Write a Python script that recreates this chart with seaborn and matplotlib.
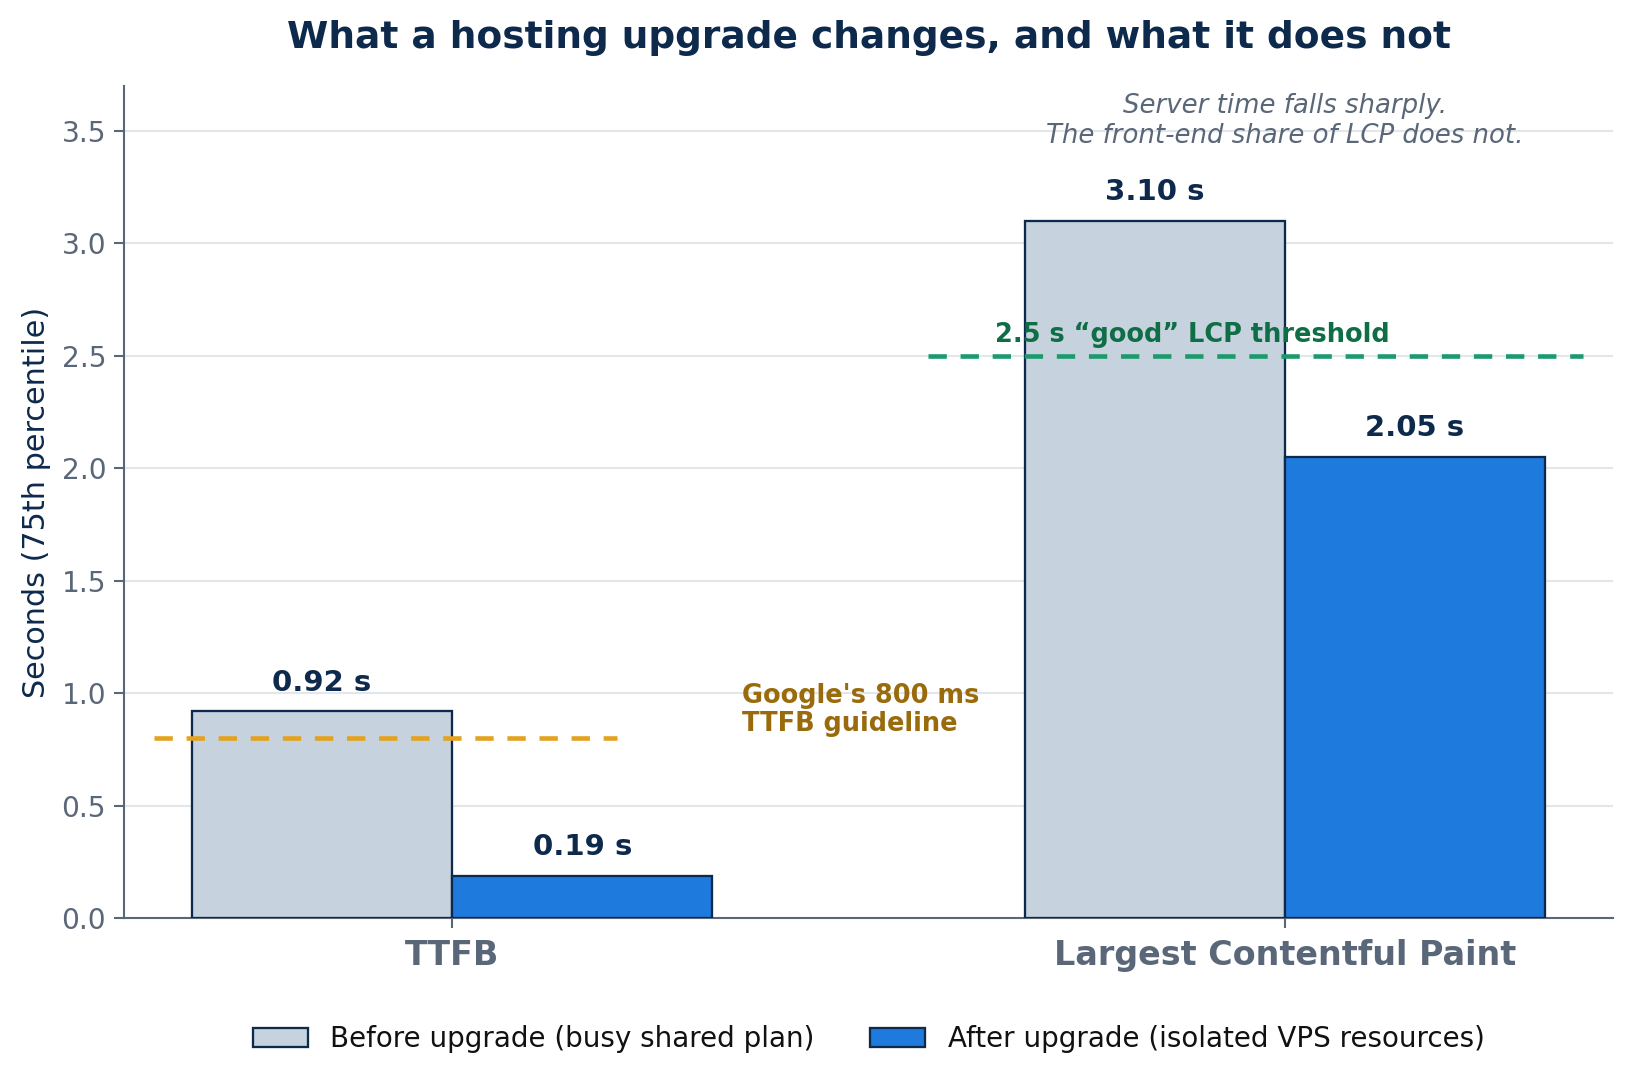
import matplotlib
matplotlib.use("Agg")
import matplotlib.pyplot as plt
import seaborn as sns
import pandas as pd

metrics = ["TTFB", "Largest Contentful Paint"]
series = ["Before upgrade (busy shared plan)", "After upgrade (isolated VPS resources)"]
before_vals = [0.92, 3.10]
after_vals = [0.19, 2.05]
ttfb_guideline = 0.8
lcp_threshold = 2.5

NAVY = "#0d2a4c"
GRAY = "#5a6778"
C_BEFORE = "#c6d2de"
C_AFTER = "#1f7ade"

rows = []
for m, b, a in zip(metrics, before_vals, after_vals):
    rows.append({"metric": m, "series": series[0], "value": b})
    rows.append({"metric": m, "series": series[1], "value": a})
df = pd.DataFrame(rows)

sns.set_theme(style="white")
plt.rcParams["font.family"] = ["DejaVu Sans"]

fig = plt.figure(figsize=(1631 / 150, 1085 / 150), dpi=150)
ax = fig.add_axes([0.076, 0.1535, 0.989 - 0.076, 0.921 - 0.1535])

sns.barplot(data=df, x="metric", y="value", hue="series", order=metrics,
            hue_order=series, palette=[C_BEFORE, C_AFTER], width=0.625,
            saturation=1, edgecolor=NAVY, linewidth=1.1, ax=ax, zorder=3,
            errorbar=None)

ax.set_ylim(0, 3.7)
ax.set_xlim(-0.394, 1.394)
yt = [0, 0.5, 1.0, 1.5, 2.0, 2.5, 3.0, 3.5]
ax.set_yticks(yt)
ax.set_yticklabels([f"{v:.1f}" for v in yt])
ax.yaxis.grid(True, color="#e3e7ec", linewidth=1.0, zorder=0)
ax.set_axisbelow(True)
for s in ["top", "right"]:
    ax.spines[s].set_visible(False)
for s in ["left", "bottom"]:
    ax.spines[s].set_color(GRAY)
    ax.spines[s].set_linewidth(1.0)
ax.tick_params(axis="y", colors=GRAY, labelsize=13.5, length=5, width=1, left=True)
ax.tick_params(axis="x", colors=GRAY, length=5, width=1, bottom=True, pad=5)
for lab in ax.get_xticklabels():
    lab.set_fontsize(16)
    lab.set_fontweight("bold")
    lab.set_color(GRAY)
ax.set_xlabel("")
ax.set_ylabel("Seconds (75th percentile)", fontsize=14.5, color=NAVY, labelpad=5)

for cont in ax.containers:
    ax.bar_label(cont, labels=[f"{v:.2f} s" for v in cont.datavalues], padding=7,
                 fontsize=14, fontweight="bold", color=NAVY)

ax.axhline(ttfb_guideline, xmin=0.02, xmax=0.331, color="#e3a21f", linestyle=(0, (4, 3)),
           linewidth=2.2, zorder=4)
ax.axhline(lcp_threshold, xmin=0.54, xmax=0.98, color="#1b9a6c", linestyle=(0, (4, 3)),
           linewidth=2.2, zorder=4)
ax.text(0.348, 0.925, "Google's 800 ms\nTTFB guideline", ha="left", va="center",
        fontsize=12.3, fontweight="bold", color="#9a6b0c", linespacing=1.12, zorder=5)
ax.text(0.889, 2.535, "2.5 s \u201cgood\u201d LCP threshold", ha="center", va="bottom",
        fontsize=12.3, fontweight="bold", color="#0f6e46", zorder=5)
ax.text(1.0, 3.542, "Server time falls sharply.\nThe front-end share of LCP does not.",
        ha="center", va="center", fontsize=12.5, style="italic", color=GRAY, zorder=5)

ax.set_title("What a hosting upgrade changes, and what it does not", fontsize=18,
             fontweight="bold", color=NAVY, pad=18)

leg = ax.legend(loc="center", bbox_to_anchor=(0.5, -0.145), ncol=2, frameon=False,
                fontsize=13.3, handlelength=2.0, columnspacing=2.0)
for t in leg.get_texts():
    t.set_color("#111111")

fig.savefig("out.png", dpi=150)
